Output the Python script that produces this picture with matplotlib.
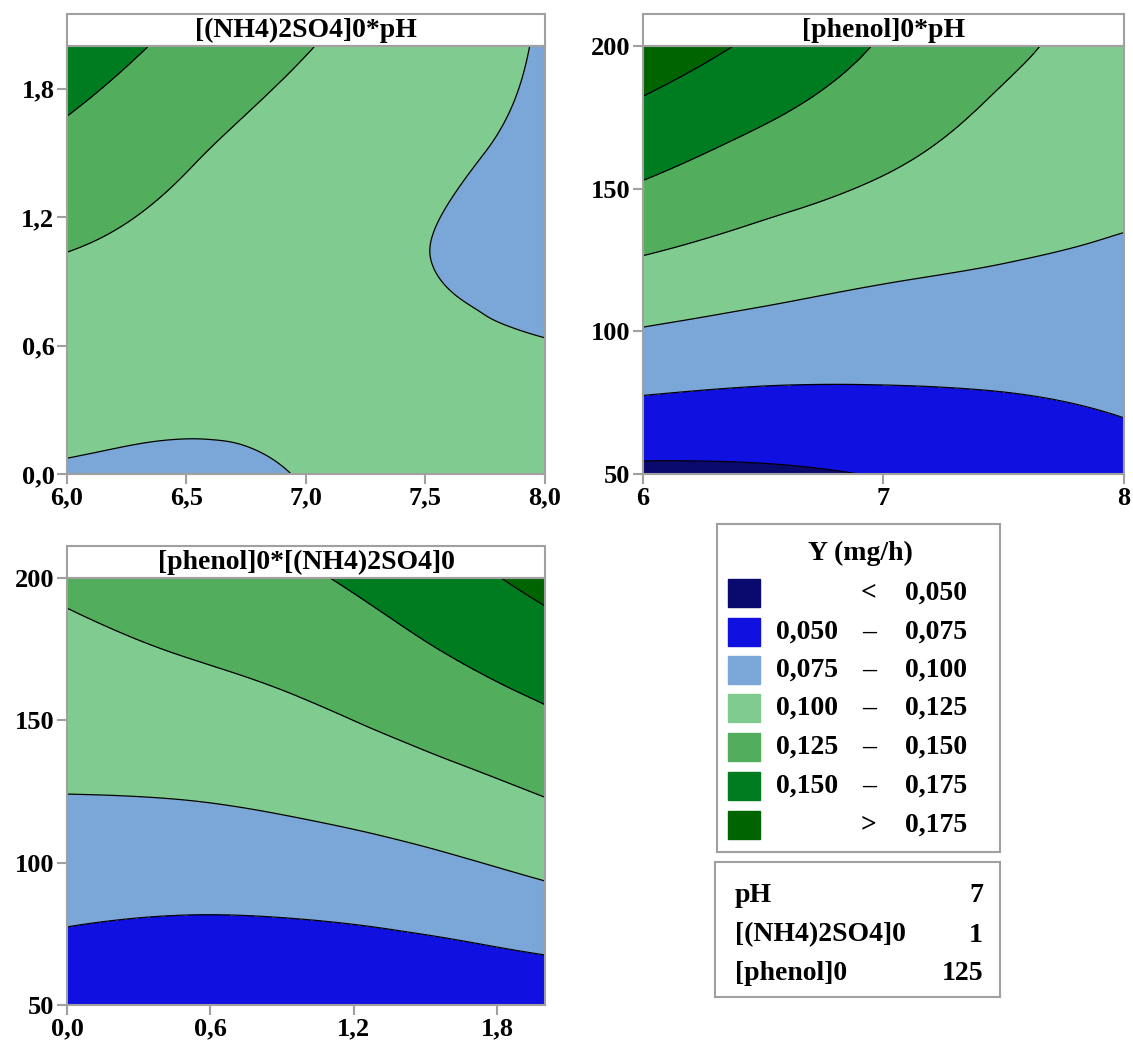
import numpy as np
import matplotlib.pyplot as plt
import matplotlib.tri as mtri
from matplotlib.patches import Rectangle

plt.rcParams['font.family'] = ['Liberation Serif', 'DejaVu Serif']
plt.rcParams['font.weight'] = 'bold'

# contour classes of Y (mg/h)
levels = [0.0, 0.050, 0.075, 0.100, 0.125, 0.150, 0.175, 0.300]
fill_colors = ['#0a0a6e', '#1010e0', '#7aa6d8', '#80cc90', '#52ae5c', '#007c20', '#006400']
legend_low = ['', '0,050', '0,075', '0,100', '0,125', '0,150', '']
legend_mid = ['<', '–', '–', '–', '–', '–', '>']
legend_high = ['0,050', '0,075', '0,100', '0,125', '0,150', '0,175', '0,175']

# fixed factor levels
fixed_names = ['pH', '[(NH4)2SO4]0', '[phenol]0']
fixed_values = ['7', '1', '125']

# grid nodes
ph_nodes = [6.0, 6.5, 7.0, 7.5, 8.0]
amm_nodes = [0.0, 0.5, 1.0, 1.5, 2.0]
phenol_nodes = [50.0, 87.5, 125.0, 162.5, 200.0]

# Y at nodes, rows = y-axis nodes, cols = x-axis nodes
y_amm_ph = [
    [0.0980, 0.0966, 0.1006, 0.1045, 0.1075],
    [0.1110, 0.1067, 0.1035, 0.1032, 0.1022],
    [0.1239, 0.1165, 0.1062, 0.1002, 0.0952],
    [0.1425, 0.1273, 0.1140, 0.1040, 0.0960],
    [0.1650, 0.1435, 0.1262, 0.1110, 0.0985],
]
y_phenol_ph = [
    [0.0449, 0.0465, 0.0512, 0.0582, 0.0671],
    [0.0856, 0.0811, 0.0796, 0.0801, 0.0820],
    [0.1235, 0.1138, 0.1058, 0.1006, 0.0963],
    [0.1585, 0.1429, 0.1296, 0.1164, 0.1093],
    [0.1886, 0.1700, 0.1478, 0.1295, 0.1160],
]
y_phenol_amm = [
    [0.0587, 0.0535, 0.0525, 0.0539, 0.0571],
    [0.0809, 0.0789, 0.0805, 0.0856, 0.0944],
    [0.1004, 0.1017, 0.1063, 0.1147, 0.1266],
    [0.1150, 0.1206, 0.1278, 0.1405, 0.1551],
    [0.1290, 0.1374, 0.1473, 0.1631, 0.1819],
]

GRAY = '#a0a0a0'
TICK_FS = 19
FS = 20


def grid_triangulation(xs, ys):
    X, Y = np.meshgrid(xs, ys)
    nx, ny = len(xs), len(ys)
    tris = []
    for j in range(ny - 1):
        for i in range(nx - 1):
            a = j * nx + i
            tris.append([a, a + 1, a + nx + 1])
            tris.append([a, a + nx + 1, a + nx])
    return mtri.Triangulation(X.ravel(), Y.ravel(), tris)


def draw_panel(ax, xs, ys, z, title, xticks, xlabels, yticks, ylabels):
    tri = grid_triangulation(xs, ys)
    zz = np.asarray(z).ravel()
    interp = mtri.CubicTriInterpolator(tri, zz, kind='min_E')
    tri_f, z_f = mtri.UniformTriRefiner(tri).refine_field(zz, triinterpolator=interp, subdiv=5)
    ax.tricontourf(tri_f, z_f, levels=levels, colors=fill_colors)
    ax.tricontour(tri_f, z_f, levels=levels[1:-1], colors='black', linewidths=0.9)
    ax.set_xlim(xs[0], xs[-1])
    ax.set_ylim(ys[0], ys[-1])
    ax.set_xticks(xticks)
    ax.set_xticklabels(xlabels)
    ax.set_yticks(yticks)
    ax.set_yticklabels(ylabels)
    ax.tick_params(direction='out', length=7, width=1.5, color=GRAY, labelsize=TICK_FS, pad=2)
    for s in ax.spines.values():
        s.set_color(GRAY)
        s.set_linewidth(1.5)
    box_h = 32 / 428
    ax.add_patch(Rectangle((0, 1), 1, box_h, transform=ax.transAxes, facecolor='white',
                           edgecolor=GRAY, lw=1.5, clip_on=False))
    ax.text(0.5, 1 + box_h / 2, title, transform=ax.transAxes, ha='center', va='center',
            fontsize=FS, fontweight='bold')


fig = plt.figure(figsize=(11.33, 10.48), dpi=100)

ax1 = fig.add_axes([0.0591, 0.5477, 0.4219, 0.4084])
draw_panel(ax1, ph_nodes, amm_nodes, y_amm_ph, '[(NH4)2SO4]0*pH',
           [6.0, 6.5, 7.0, 7.5, 8.0], ['6,0', '6,5', '7,0', '7,5', '8,0'],
           [0.0, 0.6, 1.2, 1.8], ['0,0', '0,6', '1,2', '1,8'])

ax2 = fig.add_axes([0.5675, 0.5477, 0.4245, 0.4084])
draw_panel(ax2, ph_nodes, phenol_nodes, y_phenol_ph, '[phenol]0*pH',
           [6, 7, 8], ['6', '7', '8'],
           [50, 100, 150, 200], ['50', '100', '150', '200'])

ax3 = fig.add_axes([0.0591, 0.0410, 0.4219, 0.4074])
draw_panel(ax3, amm_nodes, phenol_nodes, y_phenol_amm, '[phenol]0*[(NH4)2SO4]0',
           [0.0, 0.6, 1.2, 1.8], ['0,0', '0,6', '1,2', '1,8'],
           [50, 100, 150, 200], ['50', '100', '150', '200'])

# legend box (pixel-like coordinates inside)
lg = fig.add_axes([717 / 1133, 1 - 852 / 1048, 283 / 1133, 328 / 1048])
lg.set_xlim(0, 283)
lg.set_ylim(328, 0)
lg.set_xticks([])
lg.set_yticks([])
for s in lg.spines.values():
    s.set_color(GRAY)
    s.set_linewidth(1.5)
lg.text(143, 29, 'Y (mg/h)', ha='center', va='center', fontsize=FS)
row_y = [69, 108, 146, 184, 223, 262, 301]
for yc, c, lo, mid, hi in zip(row_y, fill_colors, legend_low, legend_mid, legend_high):
    lg.add_patch(Rectangle((11, yc - 14), 32, 28, facecolor=c, edgecolor=c))
    if lo:
        lg.text(59, yc, lo, ha='left', va='center', fontsize=FS)
    lg.text(152, yc, mid, ha='center', va='center', fontsize=FS)
    lg.text(250, yc, hi, ha='right', va='center', fontsize=FS)

# fixed factor box
fb = fig.add_axes([715 / 1133, 1 - 997 / 1048, 285 / 1133, 135 / 1048])
fb.set_xlim(0, 285)
fb.set_ylim(135, 0)
fb.set_xticks([])
fb.set_yticks([])
for s in fb.spines.values():
    s.set_color(GRAY)
    s.set_linewidth(1.5)
for yc, name, val in zip([33, 73, 111], fixed_names, fixed_values):
    fb.text(20, yc, name, ha='left', va='center', fontsize=FS)
    fb.text(268, yc, val, ha='right', va='center', fontsize=FS)

fig.savefig('out.png', dpi=100)
